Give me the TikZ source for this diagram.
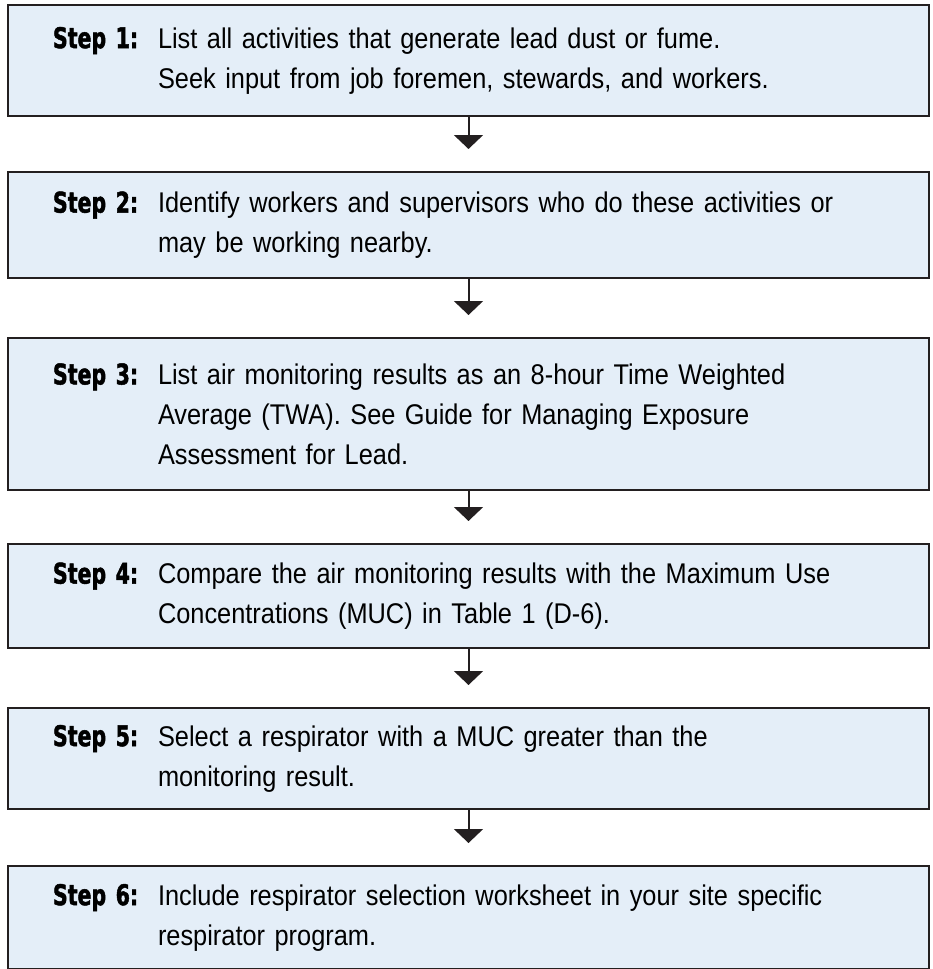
\documentclass[tikz,border=0pt]{standalone}
\usepackage{fontspec}
\setmainfont[FakeStretch=0.89]{Liberation Sans}
\newfontfamily\stepfont[FakeStretch=0.72, BoldFeatures={FakeBold=1.6}]{DejaVu Sans}
\usetikzlibrary{arrows.meta}
\definecolor{PaleBlue}{HTML}{E4EEF8}
\definecolor{Ink}{HTML}{231F20}

% label column + body column of one step box
\newcommand{\steptext}[2]{%
  \parbox[t]{105pt}{\stepfont\bfseries Step #1:}%
  \parbox[t]{720pt}{#2}}

\begin{document}
\begin{tikzpicture}[
  x=1pt, y=1pt,
  every node/.style={font=\fontsize{28.5pt}{40pt}\selectfont},
  stepbox/.style={draw=Ink, line width=2pt, fill=PaleBlue, anchor=north west,
    text width=831pt, inner xsep=45pt, inner ysep=0pt, align=left},
  flow/.style={draw=Ink, line width=2pt, shorten >=22pt,
    -{Triangle[width=29pt, length=14pt]}}
]

% Box geometry (pixels = pt)
\def\bx{7}      % left edge of all boxes

\useasboundingbox (0,0) rectangle (933,-969);

% ============================================================
% STEP BOXES
% ============================================================
\node[stepbox, minimum height=111pt] (s1) at (\bx,-4)
  {\steptext{1}{List all activities that generate lead dust or fume.\\
   Seek input from job foremen, stewards, and workers.}};

\node[stepbox, minimum height=106pt] (s2) at (\bx,-171)
  {\steptext{2}{Identify workers and supervisors who do these activities or\\
   may be working nearby.}};

\node[stepbox, minimum height=152pt] (s3) at (\bx,-337)
  {\steptext{3}{List air monitoring results as an 8-hour Time Weighted\\
   Average (TWA). See Guide for Managing Exposure\\
   Assessment for Lead.}};

\node[stepbox, minimum height=104pt] (s4) at (\bx,-543)
  {\steptext{4}{Compare the air monitoring results with the Maximum Use\\
   Concentrations (MUC) in Table 1 (D-6).}};

\node[stepbox, minimum height=101pt] (s5) at (\bx,-707)
  {\steptext{5}{Select a respirator with a MUC greater than the\\
   monitoring result.}};

\node[stepbox, minimum height=103pt] (s6) at (\bx,-865)
  {\steptext{6}{Include respirator selection worksheet in your site specific\\
   respirator program.}};

% ============================================================
% ARROWS
% ============================================================
\foreach \a/\b in {s1/s2, s2/s3, s3/s4, s4/s5, s5/s6}{
  \draw[flow] (\a.south) -- (\b.north);
}

\end{tikzpicture}
\end{document}
